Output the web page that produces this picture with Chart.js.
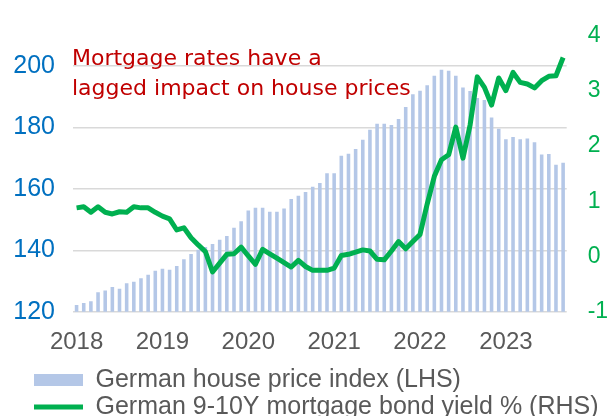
<!DOCTYPE html>
<html>
<head>
<meta charset="utf-8">
<script src="https://cdn.jsdelivr.net/npm/chart.js@4.4.0/dist/chart.umd.min.js"></script>
<style>
  html, body { margin: 0; padding: 0; background: #fff; }
</style>
</head>
<body>
<canvas id="chart" width="610" height="416"></canvas>
<script>
// ========== Data ==========
const startYear = 2018;
const endYear = 2023;
const lastMonth = 9; // data runs to Sep 2023
const yearTicks = ["2018", "2019", "2020", "2021", "2022", "2023"];

// German house price index, monthly (LHS)
const housePrice = [
  122.2, 122.9, 123.4, 126.4, 126.9, 128.1, 127.5, 129.3, 129.8, 130.9, 132.1, 133.4,
  134.0, 133.7, 134.9, 137.1, 138.8, 140.2, 141.1, 142.1, 143.5, 144.7, 147.4, 149.5,
  153.0, 153.9, 153.9, 152.6, 152.6, 153.6, 156.7, 157.8, 159.0, 160.7, 161.9, 165.1,
  165.1, 170.8, 171.5, 173.0, 176.0, 179.3, 181.2, 181.2, 180.8, 182.8, 186.7, 190.8,
  192.0, 193.8, 196.9, 198.8, 198.5, 196.9, 193.0, 191.9, 189.6, 189.0, 183.3, 179.6,
  176.2, 176.9, 176.2, 176.4, 175.2, 171.2, 171.4, 167.9, 168.5
];

// German 9-10Y mortgage bond yield %, monthly (RHS)
const bondYield = [
  0.88, 0.90, 0.80, 0.90, 0.80, 0.77, 0.81, 0.80, 0.90, 0.88, 0.88, 0.80,
  0.73, 0.68, 0.48, 0.52, 0.34, 0.21, 0.09, -0.28, -0.12, 0.04, 0.05, 0.17,
  0.01, -0.14, 0.13, 0.05, -0.03, -0.11, -0.19, -0.07, -0.18, -0.25, -0.25, -0.25,
  -0.21, 0.02, 0.04, 0.08, 0.12, 0.10, -0.05, -0.06, 0.10, 0.27, 0.14, 0.27,
  0.40, 0.95, 1.45, 1.75, 1.84, 2.34, 1.78, 2.38, 3.25, 3.06, 2.74, 3.23,
  3.00, 3.33, 3.15, 3.12, 3.05, 3.18, 3.26, 3.27, 3.60
];

const leftTicks = [120, 140, 160, 180, 200];
const noteLines = ["Mortgage rates have a", "lagged impact on house prices"];

const categories = [];
for (let y = startYear; y <= endYear; y++) {
  for (let m = 1; m <= 12; m++) {
    if (y === endYear && m > lastMonth) break;
    categories.push(`${y}-${String(m).padStart(2, "0")}`);
  }
}

// ========== Plugins ==========
// red annotation inside the plot
const notePlugin = {
  id: "note",
  afterDraw(chart) {
    const { ctx, chartArea } = chart;
    ctx.save();
    ctx.font = "22px 'DejaVu Sans'";
    ctx.fillStyle = "#c00000";
    ctx.textBaseline = "alphabetic";
    noteLines.forEach((t, i) => {
      ctx.fillText(t, chartArea.left - 1, chartArea.top + 30 + i * 30);
    });
    ctx.restore();
  },
};

// push the legend right/down a bit, axis labels need the left edge
const legendShift = {
  id: "legendShift",
  afterLayout(chart) {
    if (!chart.legend) return;
    chart.legend.left += 32;
    chart.legend.right += 32;
    chart.legend.top += 2;
    chart.legend.bottom += 2;
  },
};

// ========== Chart ==========
const axisFont = "'Liberation Sans', Arial, sans-serif";

new Chart(document.getElementById("chart"), {
  data: {
    labels: categories,
    datasets: [
      {
        type: "bar",
        label: "German house price index (LHS)",
        data: housePrice,
        yAxisID: "y",
        backgroundColor: "#b4c7e7",
        barPercentage: 0.5,
        categoryPercentage: 1,
        pointStyle: "rect",
        order: 1,
      },
      {
        type: "line",
        label: "German 9-10Y mortgage bond yield % (RHS)",
        data: bondYield,
        yAxisID: "y1",
        borderColor: "#00b050",
        backgroundColor: "#00b050",
        borderWidth: 5,
        borderJoinStyle: "round",
        pointRadius: 0,
        tension: 0,
        pointStyle: "line",
        order: 0,
      },
    ],
  },
  options: {
    responsive: false,
    animation: false,
    devicePixelRatio: 1,
    layout: { padding: { left: 0, right: 0, top: 35.4, bottom: -11.5 } },
    plugins: {
      tooltip: { enabled: false },
      legend: {
        position: "bottom",
        align: "start",
        labels: {
          usePointStyle: true,
          pointStyleWidth: 49,
          boxHeight: 12,
          padding: 2,
          color: "#595959",
          font: { family: axisFont, size: 25 },
          sort: (a, b) => a.datasetIndex - b.datasetIndex,
        },
      },
    },
    scales: {
      x: {
        grid: { display: false, drawTicks: false },
        border: { display: false },
        ticks: {
          autoSkip: false,
          maxRotation: 0,
          padding: 16,
          color: "#595959",
          font: { family: axisFont, size: 24 },
          callback: function (val) {
            const lab = this.getLabelForValue(val);
            const yr = lab.slice(0, 4);
            return lab.endsWith("-01") && yearTicks.includes(yr) ? yr : "";
          },
        },
        afterFit: (s) => { s.height = 51.7; },
      },
      y: {
        position: "left",
        min: 120,
        max: 210,
        grid: { color: "#d9d9d9", lineWidth: 1.5, drawTicks: false },
        border: { display: false },
        ticks: {
          padding: 18,
          color: "#0070c0",
          font: { family: axisFont, size: 25 },
        },
        afterBuildTicks: (s) => { s.ticks = leftTicks.map((v) => ({ value: v })); },
        afterFit: (s) => { s.width = 73; },
      },
      y1: {
        position: "right",
        min: -1,
        max: 4,
        grid: { display: false, drawTicks: false },
        border: { display: false },
        ticks: {
          stepSize: 1,
          padding: 21,
          color: "#00b050",
          font: { family: axisFont, size: 23 },
        },
        afterFit: (s) => { s.width = 43.3; },
      },
    },
  },
  plugins: [notePlugin, legendShift],
});
</script>
</body>
</html>
